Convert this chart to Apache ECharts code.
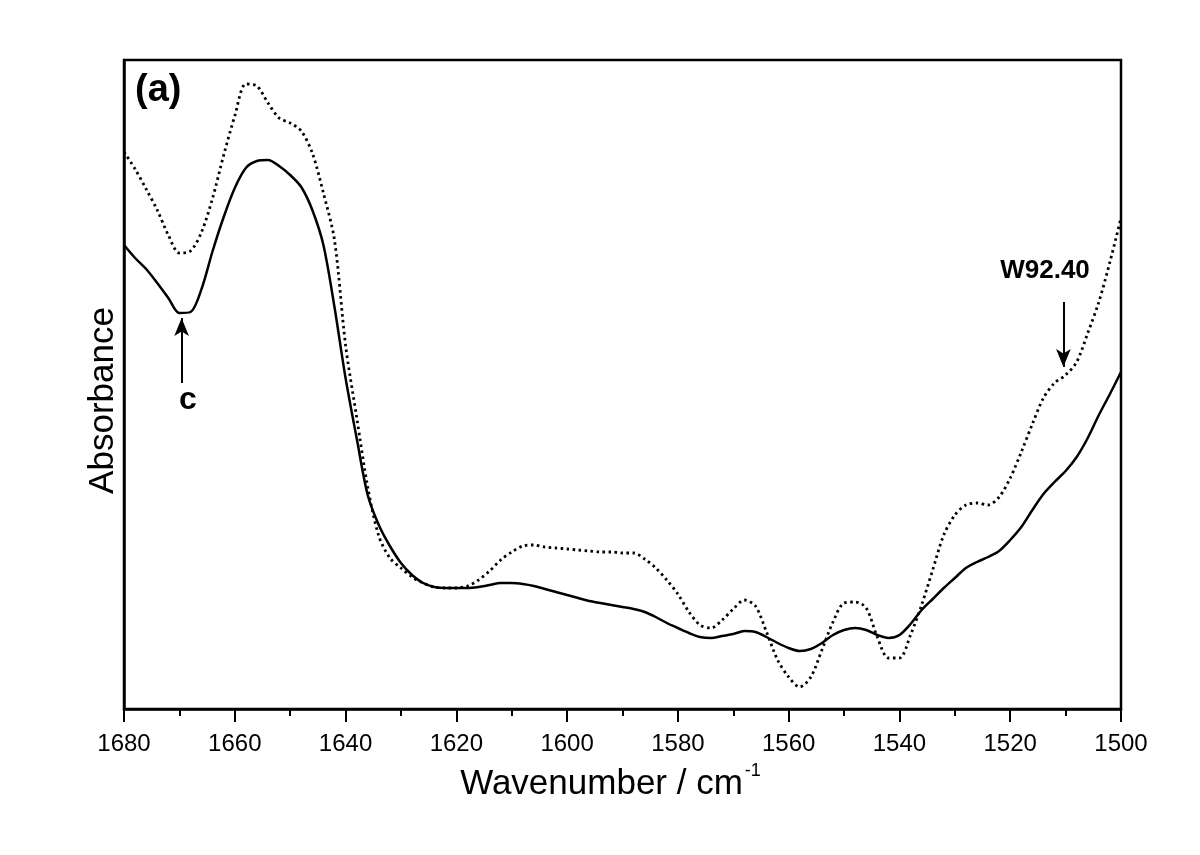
<!DOCTYPE html>
<html>
<head>
<meta charset="utf-8">
<script src="https://cdn.jsdelivr.net/npm/echarts@6/dist/echarts.min.js"></script>
<style>
  html, body { margin: 0; padding: 0; background: #fff; }
  #chart { width: 1200px; height: 855px; }
</style>
</head>
<body>
<div id="chart"></div>
<script>
  // wavenumber grid (cm-1), step 2
  var wavenumbers = [
    1680, 1678, 1676, 1674, 1672, 1670, 1668, 1666, 1664, 1662,
    1660, 1658, 1656, 1654, 1652, 1650, 1648, 1646, 1644, 1642,
    1640, 1638, 1636, 1634, 1632, 1630, 1628, 1626, 1624, 1622,
    1620, 1618, 1616, 1614, 1612, 1610, 1608, 1606, 1604, 1602,
    1600, 1598, 1596, 1594, 1592, 1590, 1588, 1586, 1584, 1582,
    1580, 1578, 1576, 1574, 1572, 1570, 1568, 1566, 1564, 1562,
    1560, 1558, 1556, 1554, 1552, 1550, 1548, 1546, 1544, 1542,
    1540, 1538, 1536, 1534, 1532, 1530, 1528, 1526, 1524, 1522,
    1520, 1518, 1516, 1514, 1512, 1510, 1508, 1506, 1504, 1502,
    1500
  ];

  // solid trace (arbitrary absorbance units)
  var solidAbs = [
    464, 451, 440, 426, 411, 396, 397, 420, 458, 492,
    521, 541, 548, 549, 543, 534, 522, 499, 464, 402,
    331, 271, 214, 184, 163, 146, 134, 126, 122, 121,
    121, 121, 122, 124, 126, 126, 125, 123, 120, 117,
    114, 111, 108, 106, 104, 102, 100, 97, 92, 86,
    81, 76, 72, 71, 73, 75, 78, 77, 72, 66,
    61, 58, 60, 66, 74, 79, 81, 79, 74, 71,
    74, 85, 99, 110, 121, 131, 141, 147, 152, 158,
    169, 182, 199, 215, 227, 238, 252, 271, 294, 315,
    337
  ];

  // dotted trace
  var dottedAbs = [
    557, 540, 520, 499, 474, 456, 458, 477, 511, 554,
    593, 625, 623, 606, 591, 586, 578, 556, 516, 469,
    364, 292, 222, 173, 151, 141, 132, 126, 122, 121,
    121, 123, 129, 138, 149, 157, 163, 164, 162, 161,
    160, 159, 158, 157, 157, 156, 156, 150, 141, 129,
    115, 97, 84, 81, 89, 100, 109, 103, 77, 49,
    32, 22, 32, 59, 87, 106, 107, 101, 72, 51,
    51, 74, 104, 139, 174, 194, 204, 206, 204, 212,
    231, 257, 285, 311, 326, 334, 347, 376, 407, 447,
    491
  ];

  // annotation arrows: [wavenumber, from, to]
  var arrowC = [1669.6, 326, 391];
  var arrowW = [1510.4, 407, 342];

  function pairs(ys) {
    return wavenumbers.map(function (w, i) { return [w, ys[i]]; });
  }

  var font = 'Liberation Sans, Arial, Helvetica, sans-serif';
  var chart = echarts.init(document.getElementById('chart'));

  chart.setOption({
    animation: false,
    backgroundColor: '#fff',
    grid: {
      left: 124, right: 79, top: 60, bottom: 146,
      show: true, borderColor: '#000', borderWidth: 2.5
    },
    xAxis: {
      type: 'value',
      inverse: true,
      min: 1500,
      max: 1680,
      interval: 20,
      name: '{n|Wavenumber / cm}{s|-1}',
      nameLocation: 'middle',
      nameGap: 53,
      nameTextStyle: {
        padding: [0, 24, 0, 0],
        rich: {
          n: { fontFamily: font, fontSize: 35, color: '#000', verticalAlign: 'bottom', lineHeight: 40 },
          s: { fontFamily: font, fontSize: 18, color: '#000', verticalAlign: 'top', lineHeight: 40, padding: [0, 0, 18, 2] }
        }
      },
      axisLine: { onZero: false, lineStyle: { color: '#000', width: 2.5 } },
      axisTick: { inside: false, length: 13, lineStyle: { color: '#000', width: 2 } },
      minorTick: { show: true, splitNumber: 2, length: 7, lineStyle: { color: '#000', width: 2 } },
      axisLabel: {
        color: '#000', fontFamily: font, fontSize: 24, margin: 23,
        formatter: function (v) { return String(v); }
      },
      splitLine: { show: false }
    },
    yAxis: {
      type: 'value',
      min: 0,
      max: 649,
      name: 'Absorbance',
      nameLocation: 'middle',
      nameRotate: 90,
      nameGap: 3,
      nameTextStyle: { fontFamily: font, fontSize: 35, color: '#000', padding: [0, 32, 0, 0] },
      axisLine: { lineStyle: { color: '#000', width: 2.5 } },
      axisTick: { show: false },
      axisLabel: { show: false },
      splitLine: { show: false }
    },
    graphic: [
      {
        type: 'text', left: 135, top: 72,
        style: { text: '(a)', font: 'bold 38px ' + font, fill: '#000' }
      },
      {
        type: 'text', x: 188, y: 400,
        style: { text: 'c', font: 'bold 32px ' + font, fill: '#000', align: 'center', verticalAlign: 'middle' }
      },
      {
        type: 'text', x: 1045, y: 271,
        style: { text: 'W92.40', font: 'bold 26px ' + font, fill: '#000', align: 'center', verticalAlign: 'middle' }
      }
    ],
    series: [
      {
        name: 'solid',
        type: 'line',
        data: pairs(solidAbs),
        smooth: 0.3,
        showSymbol: false,
        lineStyle: { color: '#000', width: 2.5 },
        markLine: {
          silent: true,
          symbol: ['none', 'arrow'],
          symbolSize: [11, 18],
          lineStyle: { color: '#000', width: 2, type: 'solid' },
          label: { show: false },
          data: [
            [{ coord: [arrowC[0], arrowC[1]] }, { coord: [arrowC[0], arrowC[2]] }],
            [{ coord: [arrowW[0], arrowW[1]] }, { coord: [arrowW[0], arrowW[2]] }]
          ]
        }
      },
      {
        name: 'dotted',
        type: 'line',
        data: pairs(dottedAbs),
        smooth: 0.3,
        showSymbol: false,
        lineStyle: { color: '#000', width: 2.8, type: [2.5, 3.5] }
      }
    ]
  });
</script>
</body>
</html>
